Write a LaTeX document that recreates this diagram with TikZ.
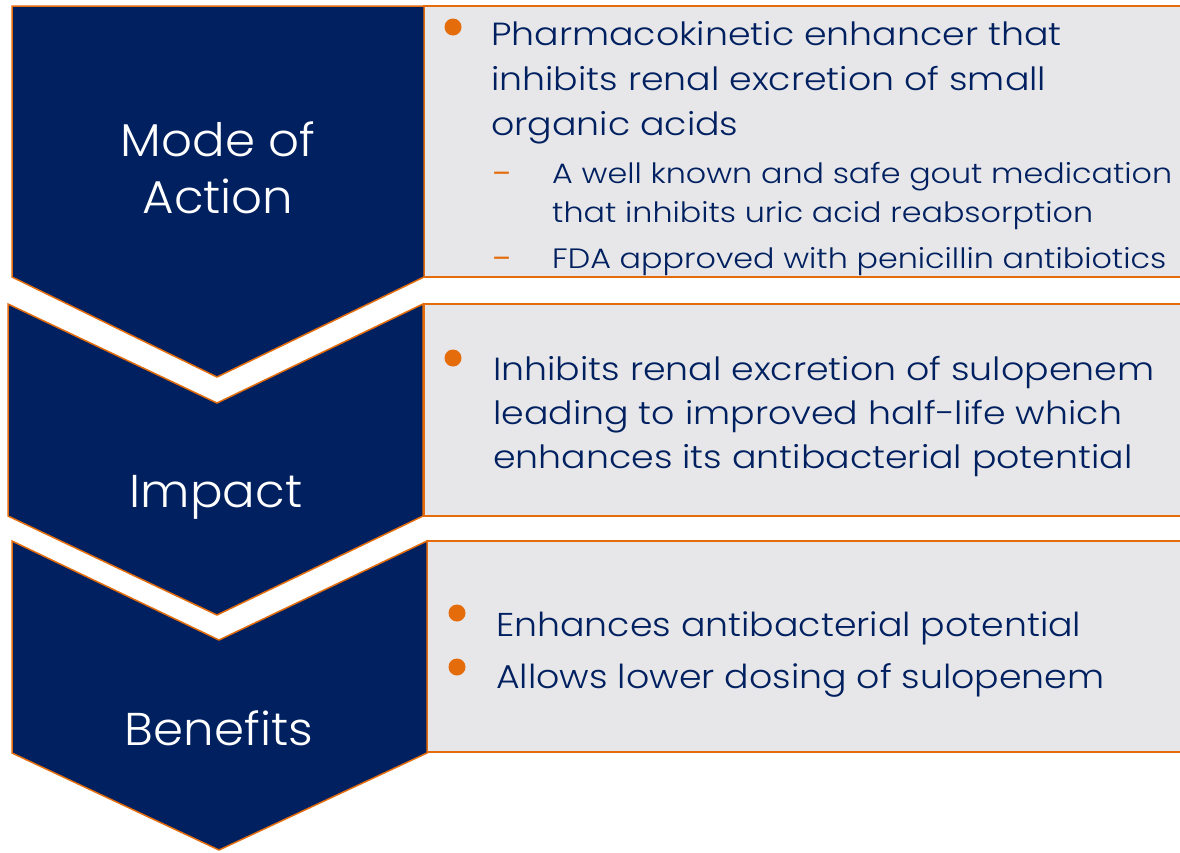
\documentclass[tikz,border=0pt]{standalone}
\usepackage{fontspec}
\setmainfont{Poppins}[UprightFont=* Light]
\newfontfamily\bodyfont{Poppins}[UprightFont=* Light, FakeStretch=1.135]
\newfontfamily\benefont{Poppins}[UprightFont=* Light, FakeStretch=1.10]
\newfontfamily\titlefont{Poppins}[UprightFont=* Light, FakeStretch=1.05]
\newfontfamily\dashfont{Poppins}
\definecolor{navy}{HTML}{002060}
\definecolor{orng}{HTML}{E46C0A}
\definecolor{boxgray}{HTML}{E7E6E9}
\begin{document}
\begin{tikzpicture}[x=1pt,y=-1pt,
  chev/.style={fill=navy, draw=orng, line width=1.5pt, line join=miter},
  infobox/.style={fill=boxgray, draw=orng, line width=1.5pt},
  title/.style={text=white, font=\titlefont\fontsize{46}{56}\selectfont, inner sep=0, anchor=base},
  mainline/.style={text=navy, font=\bodyfont\fontsize{32}{45}\selectfont, inner sep=0, anchor=base west},
  bigline/.style={text=navy, font=\benefont\fontsize{33}{45}\selectfont, inner sep=0, anchor=base west},
  subline/.style={text=navy, font=\bodyfont\fontsize{28}{39}\selectfont, inner sep=0, anchor=base west},
  subdash/.style={text=orng, font=\dashfont\fontsize{28}{39}\selectfont, inner sep=0, anchor=base west},
  dot/.style={circle, fill=orng, minimum size=17pt, inner sep=0}]
\useasboundingbox (0,0) rectangle (1180,852);
\fill[white] (0,0) rectangle (1180,852);
% right boxes
\draw[infobox] (424,6) rectangle (1184,277);
\draw[infobox] (424,304) rectangle (1184,516);
\draw[infobox] (427,541) rectangle (1184,752);
% chevrons
\draw[chev] (12,6) -- (424,6) -- (424,277) -- (217,377) -- (12,277) -- cycle;
\draw[chev] (8,304) -- (217,403) -- (423,304) -- (423,516) -- (217,615) -- (8,516) -- cycle;
\draw[chev] (12,541) -- (219,640) -- (427,541) -- (427,753) -- (219,850) -- (12,753) -- cycle;
% titles
\node[title] (t1a) at (218,156) {Mode of};
\node[title] (t1b) at (218,213) {Action};
\node[title] (t2) at (216,507) {Impact};
\node[title] (t3) at (219,745) {Benefits};
% box 1
\node[dot] (b1) at (453,27) {};
\node[mainline] (m1a) at (491,45) {Pharmacokinetic enhancer that};
\node[mainline] (m1b) at (491,90) {inhibits renal excretion of small};
\node[mainline] (m1c) at (491,135) {organic acids};
\node[subdash] (d1) at (492,183) {–};
\node[subline] (s1a) at (552,183) {A well known and safe gout medication};
\node[subline] (s1b) at (552,222) {that inhibits uric acid reabsorption};
\node[subdash] (d2) at (492,268) {–};
\node[subline] (s2a) at (552,268) {FDA approved with penicillin antibiotics};
% box 2
\node[dot] (b2) at (453,358) {};
\node[mainline] (m2a) at (493,380) {Inhibits renal excretion of sulopenem};
\node[mainline] (m2b) at (493,424) {leading to improved half-life which};
\node[mainline] (m2c) at (493,468) {enhances its antibacterial potential};
% box 3
\node[dot] (b3) at (457,613) {};
\node[bigline] (m3a) at (496,636) {Enhances antibacterial potential};
\node[dot] (b4) at (457,667) {};
\node[bigline] (m3b) at (496,688) {Allows lower dosing of sulopenem};
\end{tikzpicture}
\end{document}
